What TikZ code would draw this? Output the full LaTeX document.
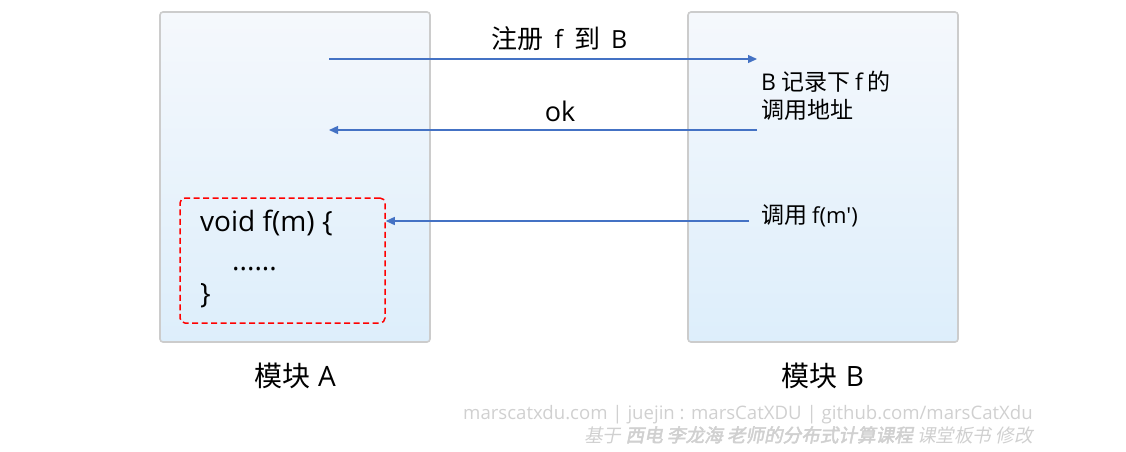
\documentclass[tikz,border=0pt]{standalone}
\usepackage{fontspec}
\setmainfont{Noto Sans CJK SC}
\newfontfamily\lat{Open Sans}
\newfontfamily\wmfont[FakeSlant=0.2]{Noto Sans CJK SC}
\newfontfamily\wmbold[FakeSlant=0.2,FakeBold=2.5]{Noto Sans CJK SC}
\usetikzlibrary{arrows.meta}
\definecolor{arrowblue}{HTML}{4472C4}
\definecolor{boxtop}{HTML}{F5F8FC}
\definecolor{boxbot}{HTML}{DDEEFB}
\definecolor{boxline}{HTML}{CCCCCC}
\definecolor{wmgray}{HTML}{D0D0D0}
\newcommand\ltx[2]{{\lat\fontsize{#1}{#1}\selectfont #2}}
\tikzset{
  module/.style={draw=boxline, line width=1.6pt, rounded corners=3pt, top color=boxtop, bottom color=boxbot, minimum width=270pt, minimum height=330pt, inner sep=0pt},
  arr/.style={draw=arrowblue, line width=1.3pt, -{Triangle[length=9pt,width=8pt]}},
  codebox/.style={draw=red, line width=1.5pt, dash pattern=on 6pt off 3.5pt, rounded corners=5pt, minimum width=205pt, minimum height=125pt, inner sep=0pt},
  lbl/.style={font=\fontsize{26}{28}\selectfont, inner sep=0pt},
  big/.style={font=\fontsize{28}{30}\selectfont, inner sep=0pt},
  note/.style={font=\fontsize{23}{28}\selectfont, inner sep=0pt, align=left},
  code/.style={font=\lat\fontsize{28}{30}\selectfont, inner sep=0pt, anchor=base west},
  wm/.style={text=wmgray, inner sep=0pt, anchor=base east}
}
\begin{document}
\begin{tikzpicture}[x=1pt,y=-1pt]
\useasboundingbox (0,0) rectangle (1126,451);
\node[module] (A) at (295,177) {};
\node[module] (B) at (823,177) {};
\node[big, anchor=base] (labA) at (295,386) {模块\hspace{8pt}\ltx{28}{A}};
\node[big, anchor=base] (labB) at (823,386) {模块\hspace{8pt}\ltx{28}{B}};
\node[codebox] (code) at (282.5,260.5) {};
\node[code] (c1) at (200,231) {void f(m) \{};
\node[code] (c2) at (232,270) {......};
\node[code] (c3) at (200,303) {\}};
\coordinate (a1) at (329,59);
\coordinate (b1) at (757,59);
\coordinate (a2) at (329,130);
\coordinate (b2) at (757,130);
\coordinate (b3) at (749,221);
\coordinate (a3) at (code.east |- b3);
\draw[arr] (a1) -- (b1);
\draw[arr] (b2) -- (a2);
\draw[arr] (b3) -- (a3);
\node[lbl, anchor=base] (reg) at (559.5,48) {注册\hspace{11pt}\ltx{25}{f}\hspace{11pt}到\hspace{11pt}\ltx{25}{B}};
\node[anchor=base, inner sep=0pt] (ok) at (560,121) {\ltx{27}{ok}};
\node[note, anchor=base west] (rec1) at (761,90) {\ltx{23}{B}\hspace{5pt}记录下\hspace{5pt}\ltx{23}{f}\hspace{5pt}的};
\node[note, anchor=base west] (rec2) at (761,118) {调用地址};
\node[note, anchor=base west] (call) at (761,223) {调用\hspace{5pt}\ltx{22}{f(m')}};
\node[wm, font=\lat\fontsize{18.6}{20}\selectfont] (wm1) at (1033,419) {marscatxdu.com | juejin : marsCatXDU | github.com/marsCatXdu};
\node[wm, font=\fontsize{18.6}{20}\selectfont] (wm2) at (1033,442) {\wmfont 基于 {\wmbold 西电 李龙海 老师的分布式计算课程} 课堂板书 修改};
\end{tikzpicture}
\end{document}
